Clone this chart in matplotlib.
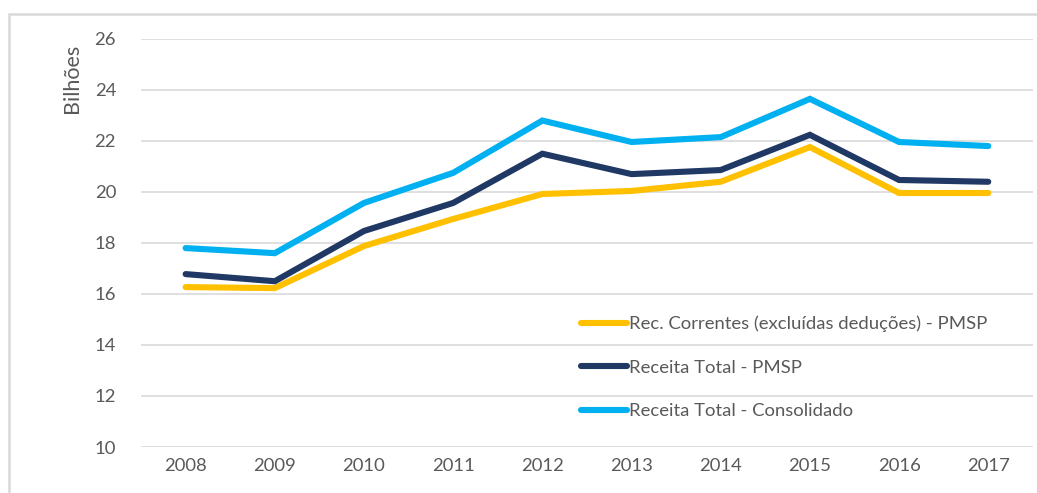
import matplotlib.pyplot as plt
from matplotlib.patches import Rectangle

anos = ['2008', '2009', '2010', '2011', '2012', '2013', '2014', '2015', '2016', '2017']
rec_correntes = [16.27, 16.23, 17.88, 18.94, 19.92, 20.04, 20.40, 21.76, 19.96, 19.96]
receita_pmsp = [16.78, 16.50, 18.47, 19.57, 21.50, 20.70, 20.86, 22.24, 20.47, 20.40]
receita_consol = [17.80, 17.60, 19.57, 20.75, 22.80, 21.96, 22.15, 23.65, 21.96, 21.80]

nomes = ['Rec. Correntes (excluídas deduções) - PMSP',
         'Receita Total - PMSP',
         'Receita Total - Consolidado']
cores = ['#FFC000', '#1F3864', '#00B0F0']

plt.rcParams['font.family'] = ['Lato', 'DejaVu Sans']
cinza = '#595959'
fs = 13.3

fig = plt.figure(figsize=(10.37, 4.93), dpi=100)
ax = fig.add_axes([0.136, 0.0933, 0.86, 0.8277])

x = list(range(len(anos)))
for serie, nome, cor in zip([rec_correntes, receita_pmsp, receita_consol], nomes, cores):
    ax.plot(x, serie, color=cor, lw=4.4, solid_capstyle='round',
            solid_joinstyle='miter', label=nome)

ax.set_xlim(-0.5, len(anos) - 0.5)
ax.set_ylim(10, 26)
ax.set_yticks(range(10, 27, 2))
ax.set_xticks(x)
ax.set_xticklabels(anos)
ax.grid(axis='y', color='#D9D9D9', lw=1.2)
ax.set_axisbelow(True)
for s in ax.spines.values():
    s.set_visible(False)
ax.tick_params(axis='y', length=0, pad=18, labelsize=fs, labelcolor=cinza)
ax.tick_params(axis='x', length=0, pad=8, labelsize=fs, labelcolor=cinza)

fig.text(0.069, 0.842, 'Bilhões', rotation=90, ha='center', va='center',
         fontsize=15.5, color=cinza)

leg = ax.legend(loc='upper left', bbox_to_anchor=(0.551, 0.378),
                bbox_transform=fig.transFigure, frameon=False,
                fontsize=fs, handlelength=2.5, handletextpad=0.12,
                labelspacing=1.48, borderpad=0)
for t in leg.get_texts():
    t.set_color(cinza)

fig.patches.append(Rectangle((9 / 1037, -0.1), 1.2, 1 - 14 / 493 + 0.1,
                             transform=fig.transFigure, fill=False,
                             edgecolor='#D9D9D9', lw=1.8))

fig.savefig('out.png', dpi=100)
